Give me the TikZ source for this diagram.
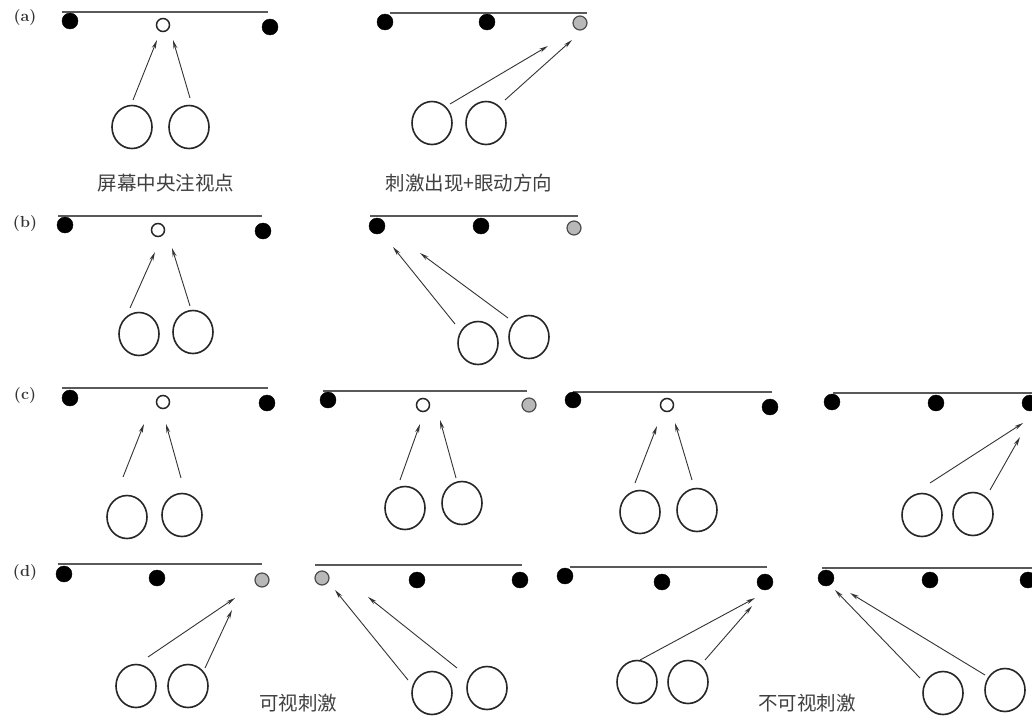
\documentclass[tikz,border=0pt]{standalone}
\usepackage{fontspec}
\newfontfamily\cjk{Noto Sans CJK SC}
\usetikzlibrary{arrows.meta,shapes.geometric}
\begin{document}
\begin{tikzpicture}[x=1pt,y=-1pt,
  screen/.style={draw=black!65,line width=2pt},
  blkdot/.style={circle,draw=black,fill=black,inner sep=0pt,minimum size=16pt},
  opendot/.style={circle,draw=black!85,fill=white,line width=1.5pt,inner sep=0pt,minimum size=13pt},
  graydot/.style={circle,draw=black!70,fill=black!28,line width=1.2pt,inner sep=0pt,minimum size=14pt},
  eye/.style={ellipse,draw=black!85,line width=1.6pt,inner sep=0pt,minimum width=40pt,minimum height=43pt},
  gaze/.style={draw=black!80,line width=0.9pt,-{Stealth[length=9pt,width=4pt]}},
  tag/.style={font=\bfseries\fontsize{16}{16}\selectfont,inner sep=0pt,text=black!80},
  caption/.style={font=\cjk\fontsize{19.5}{20}\selectfont,inner sep=0pt,text=black!75}]
\useasboundingbox[fill=white] (0,0) rectangle (1032,720);

% ---- row (a) ----
\node[tag] (ta) at (25,18) {(a)};
\draw[screen] (62,12) -- (268,12);
\node[blkdot] (a1l) at (70,21) {};
\node[opendot] (a1m) at (163,25) {};
\node[blkdot] (a1r) at (270,27) {};
\node[eye] (a1e1) at (132,127) {};
\node[eye] (a1e2) at (189,127) {};
\coordinate (a1s1) at (133,100); \coordinate (a1t1) at (157,40);
\coordinate (a1s2) at (190,98);  \coordinate (a1t2) at (173,40);
\draw[gaze] (a1s1) -- (a1t1);
\draw[gaze] (a1s2) -- (a1t2);
\node[caption] (capa) at (166,183) {屏幕中央注视点};

\draw[screen] (390,13) -- (587,13);
\node[blkdot] (a2l) at (385,22) {};
\node[blkdot] (a2m) at (487,22) {};
\node[graydot] (a2r) at (580,23) {};
\node[eye] (a2e1) at (432,123) {};
\node[eye] (a2e2) at (486,123) {};
\coordinate (a2s1) at (450,104); \coordinate (a2t1) at (548,46);
\coordinate (a2s2) at (505,100); \coordinate (a2t2) at (572,40);
\draw[gaze] (a2s1) -- (a2t1);
\draw[gaze] (a2s2) -- (a2t2);
\node[caption] (capb) at (469,183) {刺激出现+眼动方向};

% ---- row (b) ----
\node[tag] (tb) at (25,224) {(b)};
\draw[screen] (58,216) -- (262,216);
\node[blkdot] (b1l) at (65,225) {};
\node[opendot] (b1m) at (158,230) {};
\node[blkdot] (b1r) at (263,231) {};
\node[eye] (b1e1) at (139,334) {};
\node[eye] (b1e2) at (193,332) {};
\coordinate (b1s1) at (130,308); \coordinate (b1t1) at (155,252);
\coordinate (b1s2) at (190,306); \coordinate (b1t2) at (172,248);
\draw[gaze] (b1s1) -- (b1t1);
\draw[gaze] (b1s2) -- (b1t2);

\draw[screen] (370,216) -- (578,216);
\node[blkdot] (b2l) at (377,226) {};
\node[blkdot] (b2m) at (481,226) {};
\node[graydot] (b2r) at (574,228) {};
\node[eye] (b2e1) at (478,343) {};
\node[eye] (b2e2) at (529,337) {};
\coordinate (b2s1) at (455,324); \coordinate (b2t1) at (393,247);
\coordinate (b2s2) at (508,318); \coordinate (b2t2) at (420,253);
\draw[gaze] (b2s1) -- (b2t1);
\draw[gaze] (b2s2) -- (b2t2);

% ---- row (c) ----
\node[tag] (tc) at (25,396) {(c)};
\draw[screen] (62,388) -- (268,388);
\node[blkdot] (c1l) at (70,398) {};
\node[opendot] (c1m) at (163,402) {};
\node[blkdot] (c1r) at (267,403) {};
\node[eye] (c1e1) at (127,517) {};
\node[eye] (c1e2) at (182,515) {};
\coordinate (c1s1) at (123,477); \coordinate (c1t1) at (144,424);
\coordinate (c1s2) at (181,478); \coordinate (c1t2) at (166,424);
\draw[gaze] (c1s1) -- (c1t1);
\draw[gaze] (c1s2) -- (c1t2);

\draw[screen] (323,391) -- (527,391);
\node[blkdot] (c2l) at (328,400) {};
\node[opendot] (c2m) at (423,405) {};
\node[graydot] (c2r) at (529,405) {};
\node[eye] (c2e1) at (405,508) {};
\node[eye] (c2e2) at (462,503) {};
\coordinate (c2s1) at (400,480); \coordinate (c2t1) at (420,424);
\coordinate (c2s2) at (456,478); \coordinate (c2t2) at (440,420);
\draw[gaze] (c2s1) -- (c2t1);
\draw[gaze] (c2s2) -- (c2t2);

\draw[screen] (573,392) -- (772,392);
\node[blkdot] (c3l) at (573,400) {};
\node[opendot] (c3m) at (667,405) {};
\node[blkdot] (c3r) at (770,407) {};
\node[eye] (c3e1) at (640,512) {};
\node[eye] (c3e2) at (697,510) {};
\coordinate (c3s1) at (635,483); \coordinate (c3t1) at (657,426);
\coordinate (c3s2) at (692,480); \coordinate (c3t2) at (675,423);
\draw[gaze] (c3s1) -- (c3t1);
\draw[gaze] (c3s2) -- (c3t2);

\draw[screen] (833,393) -- (1032,393);
\node[blkdot] (c4l) at (832,402) {};
\node[blkdot] (c4m) at (936,403) {};
\node[blkdot] (c4r) at (1030,403) {};
\node[eye] (c4e1) at (922,515) {};
\node[eye] (c4e2) at (973,514) {};
\coordinate (c4s1) at (930,483); \coordinate (c4t1) at (1023,423);
\coordinate (c4s2) at (990,490); \coordinate (c4t2) at (1020,437);
\draw[gaze] (c4s1) -- (c4t1);
\draw[gaze] (c4s2) -- (c4t2);

% ---- row (d) ----
\node[tag] (td) at (25,572) {(d)};
\draw[screen] (58,564) -- (262,564);
\node[blkdot] (d1l) at (64,574) {};
\node[blkdot] (d1m) at (157,578) {};
\node[graydot] (d1r) at (262,580) {};
\node[eye] (d1e1) at (136,686) {};
\node[eye] (d1e2) at (188,686) {};
\coordinate (d1s1) at (148,657); \coordinate (d1t1) at (235,598);
\coordinate (d1s2) at (205,668); \coordinate (d1t2) at (232,610);
\draw[gaze] (d1s1) -- (d1t1);
\draw[gaze] (d1s2) -- (d1t2);

\draw[screen] (315,565) -- (522,565);
\node[graydot] (d2l) at (322,578) {};
\node[blkdot] (d2m) at (417,580) {};
\node[blkdot] (d2r) at (520,580) {};
\node[eye] (d2e1) at (432,693) {};
\node[eye] (d2e2) at (487,688) {};
\coordinate (d2s1) at (408,680); \coordinate (d2t1) at (335,590);
\coordinate (d2s2) at (457,668); \coordinate (d2t2) at (368,597);
\draw[gaze] (d2s1) -- (d2t1);
\draw[gaze] (d2s2) -- (d2t2);
\node[caption] (capc) at (298,703) {可视刺激};

\draw[screen] (570,567) -- (767,567);
\node[blkdot] (d3l) at (565,576) {};
\node[blkdot] (d3m) at (662,582) {};
\node[blkdot] (d3r) at (765,582) {};
\node[eye] (d3e1) at (637,682) {};
\node[eye] (d3e2) at (688,682) {};
\coordinate (d3s1) at (640,660); \coordinate (d3t1) at (755,598);
\coordinate (d3s2) at (705,660); \coordinate (d3t2) at (752,606);
\draw[gaze] (d3s1) -- (d3t1);
\draw[gaze] (d3s2) -- (d3t2);
\node[caption] (capd) at (807,703) {不可视刺激};

\draw[screen] (822,568) -- (1032,568);
\node[blkdot] (d4l) at (826,578) {};
\node[blkdot] (d4m) at (930,580) {};
\node[blkdot] (d4r) at (1028,580) {};
\node[eye] (d4e1) at (943,693) {};
\node[eye] (d4e2) at (1005,690) {};
\coordinate (d4s1) at (920,678); \coordinate (d4t1) at (835,590);
\coordinate (d4s2) at (985,675); \coordinate (d4t2) at (850,593);
\draw[gaze] (d4s1) -- (d4t1);
\draw[gaze] (d4s2) -- (d4t2);
\end{tikzpicture}
\end{document}
